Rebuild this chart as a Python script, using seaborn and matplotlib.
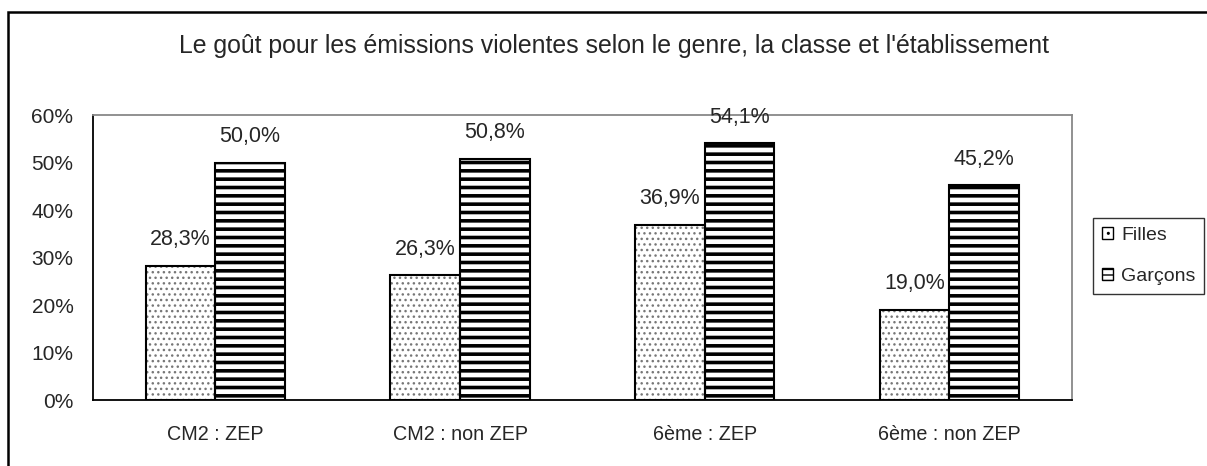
import matplotlib
matplotlib.use("Agg")
import matplotlib.pyplot as plt
import pandas as pd
import seaborn as sns
from matplotlib.patches import Patch, Rectangle
from matplotlib.ticker import FuncFormatter, MultipleLocator

# Data
categories = ["CM2 : ZEP", "CM2 : non ZEP", "6ème : ZEP", "6ème : non ZEP"]
filles = [28.3, 26.3, 36.9, 19.0]
garcons = [50.0, 50.8, 54.1, 45.2]
series_names = ["Filles", "Garçons"]

df = pd.DataFrame(
    {
        "Catégorie": categories * 2,
        "Valeur": filles + garcons,
        "Genre": [series_names[0]] * len(categories) + [series_names[1]] * len(categories),
    }
)

sns.set_style("white")
plt.rcParams["font.family"] = ["Liberation Sans", "DejaVu Sans"]

fig = plt.figure(figsize=(12.07, 4.66), dpi=100)
ax = fig.add_axes([0.077, 0.1416, 0.811, 0.6116])

sns.barplot(
    data=df, x="Catégorie", y="Valeur", hue="Genre", hue_order=series_names,
    palette=["white", "white"], width=0.57, gap=0, ax=ax, legend=False,
)

# hatch styles: grey dots for girls, thick black stripes for boys
styles = {
    "Filles": dict(hatch="...", hcolor="#777777", hlw=1.0),
    "Garçons": dict(hatch="--", hcolor="black", hlw=2.6),
}
for cont, name in zip(ax.containers, series_names):
    st = styles[name]
    for p in cont.patches:
        p.set_hatch(st["hatch"])
        p.set_edgecolor(st["hcolor"])
        p.set_linewidth(0)
        p._hatch_linewidth = st["hlw"]
        ax.add_patch(Rectangle((p.get_x(), p.get_y()), p.get_width(), p.get_height(),
                               fill=False, edgecolor="black", linewidth=1.5, zorder=3))
    ax.bar_label(cont, labels=[f"{v:.1f}%".replace(".", ",") for v in cont.datavalues],
                 padding=11, fontsize=15.5)

ax.set_ylim(0, 60)
ax.yaxis.set_major_locator(MultipleLocator(10))
ax.yaxis.set_major_formatter(FuncFormatter(lambda x, pos: f"{int(x)}%"))
ax.set_xlim(-0.5, len(categories) - 0.5)
ax.set_xlabel("")
ax.set_ylabel("")

# x ticks at category boundaries, labels at centres
ax.set_xticks([i - 0.5 for i in range(len(categories) + 1)])
ax.set_xticklabels([])
ax.set_xticks(range(len(categories)), minor=True)
ax.set_xticklabels(categories, minor=True, fontsize=14.2)
ax.tick_params(axis="x", which="major", direction="out", length=5, width=1, colors="black")
ax.tick_params(axis="x", which="minor", length=0, pad=18)
ax.tick_params(axis="y", direction="out", length=5, width=1, labelsize=15, pad=9)

for side in ["left", "bottom"]:
    ax.spines[side].set_color("black")
    ax.spines[side].set_linewidth(1.3)
for side in ["top", "right"]:
    ax.spines[side].set_visible(True)
    ax.spines[side].set_color("#888888")
    ax.spines[side].set_linewidth(1.3)

fig.text(0.509, 0.902,
         "Le goût pour les émissions violentes selon le genre, la classe et l'établissement",
         ha="center", va="center", fontsize=17.9)

handles = [
    Patch(facecolor="white", edgecolor="black", hatch="..", label="Filles"),
    Patch(facecolor="white", edgecolor="black", hatch="---", label="Garçons"),
]
leg = fig.legend(handles=handles, loc="center left", bbox_to_anchor=(0.9055, 0.451),
                 frameon=True, fancybox=False, fontsize=14, handlelength=0.6,
                 handleheight=0.6, handletextpad=0.4, labelspacing=1.25, borderpad=0.45,
                 borderaxespad=0)
leg.get_frame().set_edgecolor("black")
leg.get_frame().set_linewidth(1.0)

# outer frame around the whole chart (right and bottom edges fall outside the image)
fig.patches.append(Rectangle((0.0066, -0.05), 1.1, 0.024 + 1.0, transform=fig.transFigure,
                             fill=False, edgecolor="black", linewidth=1.8))

fig.savefig("out.png", dpi=100)
